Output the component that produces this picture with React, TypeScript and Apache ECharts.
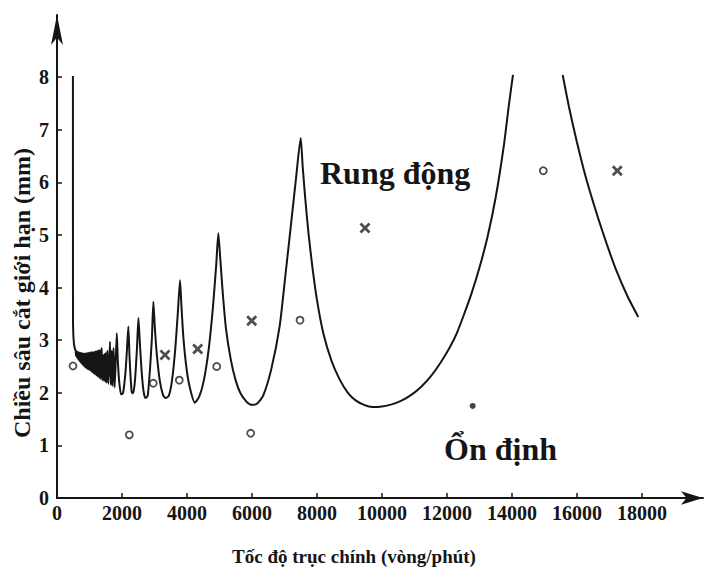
import { useEffect, useRef } from 'react';
import * as echarts from 'echarts';

// Stability lobe boundary (spindle speed rpm, limiting depth mm); null = break (curve leaves plot)
const lobeSpeed: number[] = [
  490, 492, 500, 515, 535, 560,
  575, 585, 596, 606, 617, 628, 640, 651, 663, 675, 688, 700, 713, 726, 740, 754, 768, 782,
  797, 812, 827, 842, 858, 874, 890, 906, 922, 939, 956, 974, 992, 1010, 1028, 1047,
  1066, 1085, 1104, 1124, 1144, 1165, 1186, 1208, 1230, 1252, 1275, 1298, 1322, 1346,
  1375, 1400, 1420, 1442, 1462, 1484, 1505, 1528, 1552, 1585,
  1630, 1660, 1685, 1712, 1740, 1775,
  1840, 1870, 1910, 1970, 2030, 2100, 2150,
  2195, 2228, 2260, 2300, 2345, 2400, 2460,
  2505, 2550, 2600, 2660, 2720, 2790, 2860, 2920,
  2965, 3010, 3070, 3160, 3260, 3340, 3440, 3540, 3640, 3720,
  3785, 3830, 3890, 3990, 4090, 4240, 4380, 4520, 4670, 4800, 4900,
  4964, 5025, 5095, 5195, 5345, 5495, 5645, 5845, 5990, 6150, 6340, 6590, 6850, 7040, 7200, 7350,
  7498, 7560, 7640, 7740, 7860, 8000, 8194, 8450, 8700, 8950, 9200, 9450, 9700,
  10000, 10300, 10600, 10900, 11200, 11500, 11800, 12100, 12300, 12500, 12750,
  13000, 13250, 13500, 13750, 13900, 14030,
  14800,
  15560, 15750, 15991, 16200, 16400, 16650, 16914, 17200, 17550, 17886,
];
const lobeDepth: (number | null)[] = [
  8.02, 3.4, 3.15, 2.98, 2.88, 2.82,
  2.8, 2.7, 2.79, 2.68, 2.78, 2.66, 2.77, 2.64, 2.77, 2.62, 2.76, 2.6, 2.76, 2.58, 2.75, 2.56, 2.75, 2.54,
  2.75, 2.52, 2.74, 2.5, 2.74, 2.48, 2.75, 2.47, 2.75, 2.45, 2.76, 2.44, 2.76, 2.43, 2.77, 2.41,
  2.77, 2.39, 2.78, 2.37, 2.78, 2.35, 2.79, 2.33, 2.8, 2.31, 2.81, 2.28, 2.82, 2.26,
  2.85, 2.24, 2.72, 2.23, 2.74, 2.21, 2.76, 2.19, 2.8, 2.17,
  2.97, 2.15, 2.8, 2.13, 2.85, 2.1,
  3.13, 2.64, 2.24, 1.97, 1.99, 2.34, 2.79,
  3.26, 2.74, 2.34, 2.01, 1.99, 2.24, 2.84,
  3.42, 2.94, 2.44, 2.04, 1.9, 1.94, 2.44, 3.04,
  3.73, 3.24, 2.74, 2.24, 1.96, 1.9, 1.94, 2.24, 2.84, 3.54,
  4.14, 3.64, 3.04, 2.44, 2.09, 1.81, 1.93, 2.24, 2.84, 3.64, 4.44,
  5.03, 4.54, 3.94, 3.24, 2.64, 2.24, 1.99, 1.82, 1.77, 1.79, 1.94, 2.44, 3.26, 4.3, 5.2, 6.05,
  6.84, 6.3, 5.68, 5.02, 4.38, 3.76, 3.13, 2.6, 2.25, 2.0, 1.85, 1.77, 1.73,
  1.74, 1.78, 1.85, 1.96, 2.11, 2.31, 2.57, 2.88, 3.13, 3.45, 3.88,
  4.38, 4.97, 5.72, 6.7, 7.45, 8.04,
  null,
  8.04, 7.44, 6.78, 6.26, 5.82, 5.32, 4.83, 4.34, 3.84, 3.44,
];

// Experimental points
const circleSpeed = [492, 2225, 2963, 3763, 4914, 5960, 7477, 14963];
const circleDepth = [2.51, 1.2, 2.18, 2.24, 2.5, 1.23, 3.38, 6.22];
const dotSpeed = [12790];
const dotDepth = [1.75];
const crossSpeed = [3323, 4329, 5991, 9477, 17240];
const crossDepth = [2.72, 2.83, 3.37, 5.13, 6.22];

const xTicks = [0, 2000, 4000, 6000, 8000, 10000, 12000, 14000, 16000, 18000];
const yTicks = [0, 1, 2, 3, 4, 5, 6, 7, 8];

const xTitle = 'Tốc độ trục chính (vòng/phút)';
const yTitle = 'Chiều sâu cắt giới hạn (mm)';
const unstableLabel = 'Rung động';
const stableLabel = 'Ổn định';

const FONT = '"Liberation Serif", "DejaVu Serif", serif';
const INK = '#151515';

export default function App() {
  const ref = useRef<HTMLDivElement>(null);
  useEffect(() => {
    if (!ref.current) return;
    const chart = echarts.init(ref.current, undefined, { renderer: 'svg' });
    const pair = (xs: number[], ys: (number | null)[]) => xs.map((x, i) => [x, ys[i]]);
    const crossPath =
      'path://M0,1.8L1.8,0L5,3.2L8.2,0L10,1.8L6.8,5L10,8.2L8.2,10L5,6.8L1.8,10L0,8.2L3.2,5Z';
    const axisLabelStyle = {
      fontFamily: FONT,
      fontWeight: 'bold' as const,
      fontSize: 20,
      color: INK,
    };
    chart.setOption({
      animation: false,
      backgroundColor: '#ffffff',
      grid: { left: 57, top: 15, right: 2, bottom: 72, containLabel: false },
      xAxis: {
        type: 'value',
        min: 0,
        max: 19877,
        axisLine: {
          show: true,
          symbol: ['none', 'arrow'],
          symbolSize: [10, 22],
          lineStyle: { color: INK, width: 2 },
        },
        axisTick: {
          show: true,
          inside: true,
          length: 5,
          customValues: xTicks,
          lineStyle: { color: INK, width: 1.5 },
        },
        axisLabel: {
          ...axisLabelStyle,
          margin: 5,
          customValues: xTicks,
          formatter: (v: number) => String(v),
        },
        splitLine: { show: false },
      },
      yAxis: {
        type: 'value',
        min: 0,
        max: 9.18,
        axisLine: {
          show: true,
          symbol: ['none', 'arrow'],
          symbolSize: [9, 30],
          lineStyle: { color: INK, width: 2 },
        },
        axisTick: {
          show: true,
          inside: true,
          length: 5,
          customValues: yTicks,
          lineStyle: { color: INK, width: 1.5 },
        },
        axisLabel: {
          ...axisLabelStyle,
          margin: 8,
          customValues: yTicks,
          formatter: (v: number) => String(v),
        },
        splitLine: { show: false },
      },
      graphic: [
        {
          type: 'text',
          x: 22,
          y: 293,
          rotation: Math.PI / 2,
          style: {
            text: yTitle,
            font: `bold 24px ${FONT}`,
            fill: INK,
            textAlign: 'center',
            textVerticalAlign: 'middle',
          },
        },
        {
          type: 'text',
          x: 354,
          y: 556,
          style: {
            text: xTitle,
            font: `bold 19px ${FONT}`,
            fill: INK,
            textAlign: 'center',
            textVerticalAlign: 'middle',
          },
        },
        {
          type: 'text',
          x: 320,
          y: 173,
          style: {
            text: unstableLabel,
            font: `bold 32px ${FONT}`,
            fill: INK,
            textAlign: 'left',
            textVerticalAlign: 'middle',
          },
        },
        {
          type: 'text',
          x: 444,
          y: 449,
          style: {
            text: stableLabel,
            font: `bold 32px ${FONT}`,
            fill: INK,
            textAlign: 'left',
            textVerticalAlign: 'middle',
          },
        },
      ],
      series: [
        {
          type: 'line',
          data: pair(lobeSpeed, lobeDepth),
          showSymbol: false,
          connectNulls: false,
          smooth: 0.2,
          lineStyle: { color: INK, width: 2 },
          z: 3,
        },
        {
          type: 'scatter',
          data: pair(circleSpeed, circleDepth),
          symbol: 'circle',
          symbolSize: 7,
          itemStyle: { color: '#ffffff', borderColor: '#222', borderWidth: 1.8 },
          z: 4,
        },
        {
          type: 'scatter',
          data: pair(dotSpeed, dotDepth),
          symbol: 'circle',
          symbolSize: 6,
          itemStyle: { color: INK },
          z: 4,
        },
        {
          type: 'scatter',
          data: pair(crossSpeed, crossDepth),
          symbol: crossPath,
          symbolSize: 11,
          itemStyle: { color: '#222' },
          z: 4,
        },
      ],
    });
    return () => chart.dispose();
  }, []);
  return (
    <div
      ref={ref}
      style={{ position: 'fixed', left: 0, top: 0, width: 705, height: 570, background: '#fff' }}
    />
  );
}
